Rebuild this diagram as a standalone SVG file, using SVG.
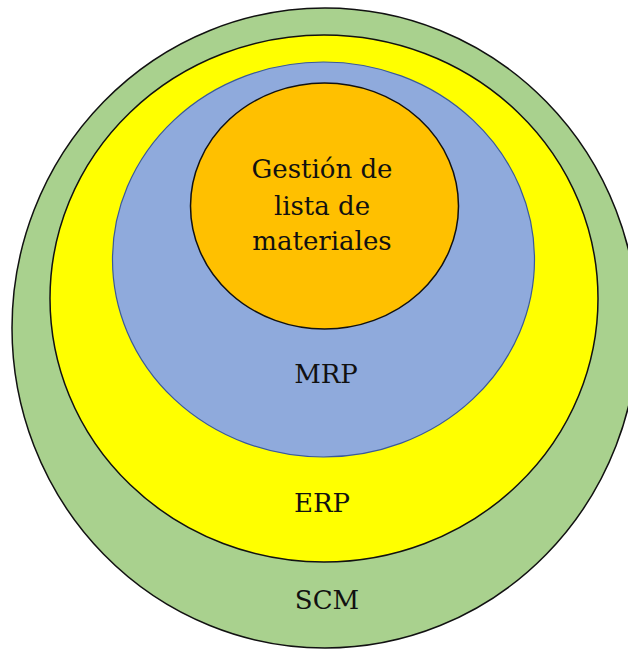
<svg xmlns="http://www.w3.org/2000/svg" width="628" height="650" viewBox="0 0 628 650">
<style>
.lbl{font-family:"DejaVu Serif","Liberation Serif",serif;font-size:26px;fill:#111;text-anchor:middle}
.ring{stroke:#111;stroke-width:1.5}
</style>
<rect width="628" height="650" fill="#fff"/>
<g id="scm">
<ellipse class="ring" cx="325" cy="328" rx="313" ry="320" fill="#A9D18E"/>
<text class="lbl" x="327" y="609">SCM</text>
</g>
<g id="erp">
<ellipse class="ring" cx="324" cy="298.5" rx="274" ry="263.5" fill="#FFFF00"/>
<text class="lbl" x="322" y="512">ERP</text>
</g>
<g id="mrp">
<ellipse cx="323.5" cy="259.5" rx="211" ry="197.5" fill="#8FAADC" stroke="#3A5A99" stroke-width="1.2"/>
<text class="lbl" x="326" y="383">MRP</text>
</g>
<g id="bom">
<ellipse class="ring" cx="324.5" cy="206" rx="134" ry="123" fill="#FFC000"/>
<text class="lbl" x="322" y="178">Gestión de</text>
<text class="lbl" x="322" y="215">lista de</text>
<text class="lbl" x="322" y="250">materiales</text>
</g>
<g id="connectors"/>
</svg>
